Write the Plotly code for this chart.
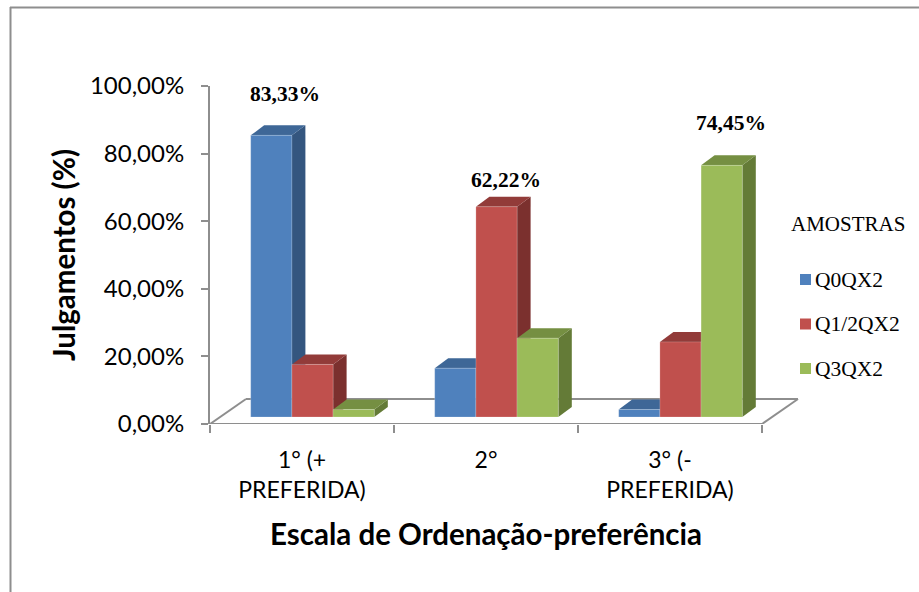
import plotly.graph_objects as go

categories = ["1° (+<br>PREFERIDA)", "2°", "3° (-<br>PREFERIDA)"]
series_names = ["Q0QX2", "Q1/2QX2", "Q3QX2"]
q0 = [83.33, 14.45, 2.22]
q12 = [15.56, 62.22, 22.22]
q3 = [2.22, 23.33, 74.45]
y_ticks = [0, 20, 40, 60, 80, 100]
y_tick_labels = ["0,00%", "20,00%", "40,00%", "60,00%", "80,00%", "100,00%"]
labelled = [(0, 0, "83,33%", 14, 41), (1, 1, "62,22%", 9, 27), (2, 2, "74,45%", 9, 42)]
legend_title = "AMOSTRAS"

W, H = 919, 592
AX_L, AX_R, AX_T, AX_B = 210, 762, 86, 424
PX_X = (AX_R - AX_L) / 3.0
PX_Y = (AX_B - AX_T) / 100.0
x_min, x_max = 0.5, 3.5
BAR_W = 41.2 / PX_X
GROUP_SHIFT = 10.5 / PX_X
BASE = 7 / PX_Y
DX, DY = 13.5 / PX_X, 10 / PX_Y
FX, FY = 36 / PX_X, 25 / PX_Y
GREY = "#8E8E8E"

front = ["#4F81BD", "#C0504D", "#9BBB59"]
top_c = ["#3E6797", "#923B39", "#758F42"]
side_c = ["#34567F", "#7B302E", "#647B37"]
values = [q0, q12, q3]
centers = [1 + GROUP_SHIFT, 2 + GROUP_SHIFT, 3 + GROUP_SHIFT]


def to_paper(x):
    return (AX_L + (x - x_min) * PX_X) / W


def poly(points, color):
    d = "M" + "L".join(f"{x},{y}" for x, y in points) + "Z"
    return dict(type="path", path=d, xref="x", yref="y", fillcolor=color,
                line=dict(width=0), layer="below")


def seg(x0, y0, x1, y1):
    return dict(type="line", xref="paper", yref="y", x0=to_paper(x0), y0=y0, x1=to_paper(x1), y1=y1,
                line=dict(color=GREY, width=2), layer="below")


shapes = [
    seg(x_min, 0, x_max, 0),
    seg(x_min, 0, x_min + FX, FY),
    seg(x_min + FX, FY, x_max + FX, FY),
    seg(x_max + FX, FY, x_max, 0),
    dict(type="line", xref="paper", yref="paper", x0=10.5 / W, x1=10.5 / W,
         y0=0, y1=1 - 7 / H, line=dict(color=GREY, width=2)),
    dict(type="line", xref="paper", yref="paper", x0=10 / W, x1=1,
         y0=1 - 7.5 / H, y1=1 - 7.5 / H, line=dict(color=GREY, width=2)),
]

fig = go.Figure()
for g, c in enumerate(centers):
    for s in range(3):
        xl = c + (s - 1.5) * BAR_W
        xr = xl + BAR_W
        t = BASE + values[s][g]
        shapes.append(poly([(xr, BASE), (xr + DX, BASE + DY), (xr + DX, t + DY), (xr, t)], side_c[s]))
        shapes.append(poly([(xl, t), (xl + DX, t + DY), (xr + DX, t + DY), (xr, t)], top_c[s]))

for s, name in enumerate(series_names):
    fig.add_trace(go.Bar(
        x=[c + (s - 1) * BAR_W for c in centers], y=values[s], base=BASE, width=BAR_W,
        name=name, showlegend=False,
        marker=dict(color=front[s], line=dict(color="rgba(255,255,255,0.35)", width=0.6)),
    ))

annotations = [
    dict(x=centers[g] + (s - 1) * BAR_W, y=BASE + values[s][g], xref="x", yref="y",
         text=f"<b>{txt}</b>", showarrow=False, xshift=xs, yshift=ys,
         font=dict(family="Liberation Serif", size=21.5, color="black"))
    for g, s, txt, xs, ys in labelled
]
annotations.append(dict(x=847.5 / W, y=1 - 224 / H, xref="paper", yref="paper", text=legend_title,
                        xanchor="center", showarrow=False,
                        font=dict(family="Liberation Serif", size=21, color="black")))

# Legend key, laid out as in the reference (square hard against its label).
for s, name in enumerate(series_names):
    cy = 279.5 + s * 44.5
    shapes.append(dict(type="rect", xref="paper", yref="paper", x0=800 / W, x1=811 / W,
                       y0=1 - (cy + 5.5) / H, y1=1 - (cy - 5.5) / H,
                       fillcolor=front[s], line=dict(width=0)))
    annotations.append(dict(x=815 / W, y=1 - cy / H, xref="paper", yref="paper", text=name,
                            xanchor="left", yanchor="middle", showarrow=False, borderpad=0, borderwidth=0,
                            font=dict(family="Liberation Serif", size=21.5, color="black")))

fig.update_layout(
    width=W, height=H, margin=dict(l=0, r=0, t=0, b=0), autosize=False, showlegend=False,
    paper_bgcolor="white", plot_bgcolor="rgba(0,0,0,0)", barmode="overlay",
    font=dict(family="Lato", color="black"),
    shapes=shapes, annotations=annotations,
    xaxis=dict(domain=[AX_L / W, AX_R / W], range=[x_min, x_max], tickmode="array", automargin=False,
               tickvals=[1, 2, 3], ticktext=categories, showgrid=False, zeroline=False,
               showline=False, ticks="", ticklabelstandoff=20, tickangle=0,
               tickfont=dict(family="Lato", size=23),
               minor=dict(tickvals=[0.5, 1.5, 2.5, 3.5], ticks="outside", ticklen=8,
                          tickwidth=2, tickcolor=GREY, showgrid=False),
               title=dict(text="<b>Escala de Ordenação-preferência</b>", standoff=22,
                          font=dict(family="Lato", size=29.5))),
    yaxis=dict(domain=[1 - AX_B / H, 1 - AX_T / H], range=[0, 100], tickmode="array", automargin=False,
               tickvals=y_ticks, ticktext=y_tick_labels, showgrid=False, zeroline=False,
               showline=True, linecolor=GREY, linewidth=2, ticks="outside", ticklen=7,
               tickwidth=2, tickcolor=GREY, ticklabelstandoff=12, tickfont=dict(family="Lato", size=24),
               title=dict(text="<b>Julgamentos (%)</b>", standoff=6,
                          font=dict(family="Lato", size=29.5))),
)

fig.write_html("out.html", post_script="document.body.style.margin='0';document.body.style.overflow='hidden';",
               config={"displayModeBar": False})
